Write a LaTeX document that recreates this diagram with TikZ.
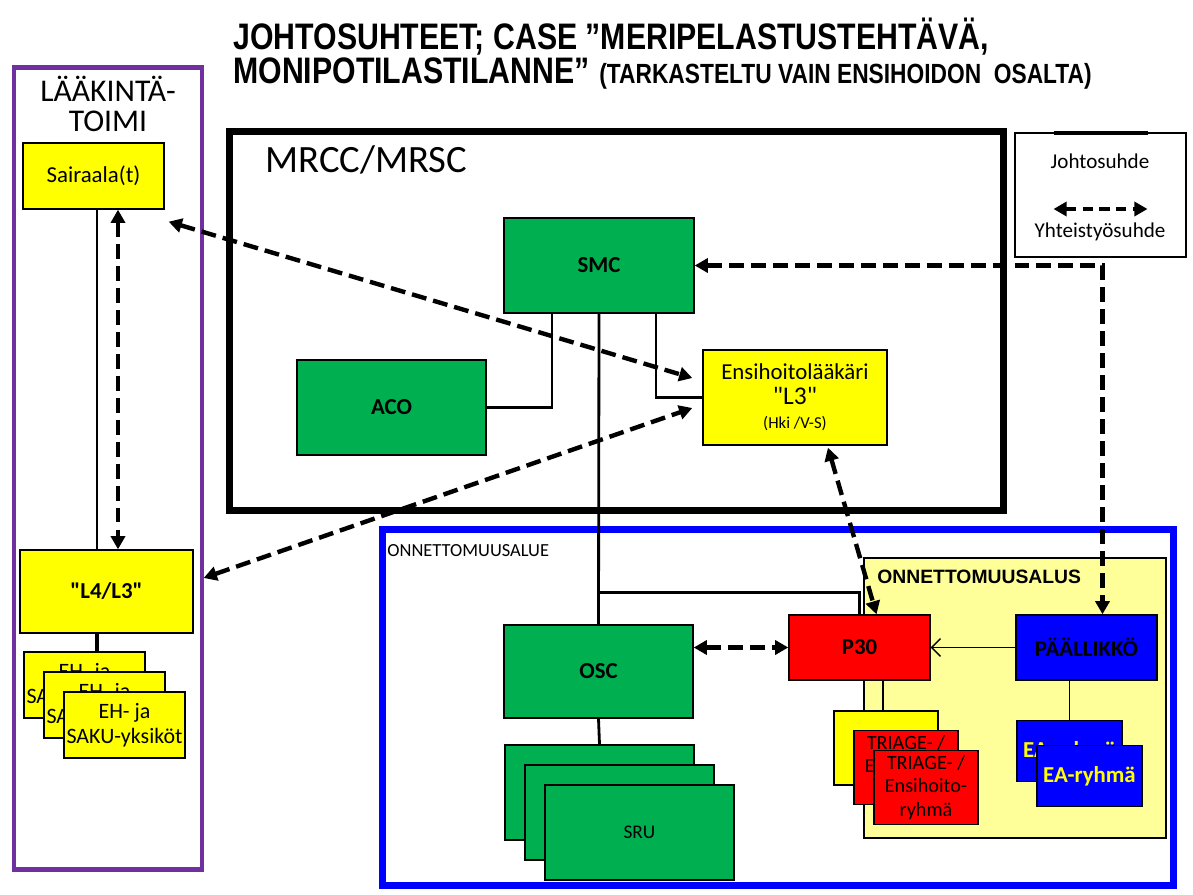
\documentclass[tikz,border=0pt]{standalone}
\usepackage{fontspec}
\setmainfont{Carlito}[Ligatures=TeXOff]
\newfontfamily\arialfont{Liberation Sans}
\newfontfamily\narrowfont[FakeStretch=0.82]{Liberation Sans}
\usepackage{xcolor}
\usetikzlibrary{arrows.meta}

\definecolor{boxgreen}{HTML}{00B050}
\definecolor{boxyellow}{HTML}{FFFF00}
\definecolor{paleyellow}{HTML}{FFFF99}
\definecolor{boxred}{HTML}{FF0000}
\definecolor{boxblue}{HTML}{0000FF}
\definecolor{frampurple}{HTML}{7030A0}

\tikzset{
  box/.style={draw, line width=0.8pt, inner sep=1pt, align=center, font=\fontsize{13}{15}\selectfont},
  gbox/.style={box, fill=boxgreen, minimum width=3.8cm, minimum height=1.9cm, font=\bfseries\fontsize{13}{15}\selectfont},
  ybox/.style={box, fill=boxyellow},
  rbox/.style={box, fill=boxred},
  bbox/.style={box, fill=boxblue},
  frame/.style={draw, inner sep=0pt, outer sep=0pt},
  lead/.style={line width=1.6pt},
  thinline/.style={line width=0.8pt},
  coop/.style={line width=2.5pt, dash pattern=on 8.5pt off 4pt, >={Triangle[length=7.5pt,width=8pt]}, <->}
}

\begin{document}
\begin{tikzpicture}[x=0.02cm, y=-0.02cm]
\path[use as bounding box, fill=white] (0,0) rectangle (1193,895);

% title
\node[anchor=base west, inner sep=0pt, font=\narrowfont\bfseries\fontsize{21}{20}\selectfont] (title1) at (233,50) {JOHTOSUHTEET; CASE ”MERIPELASTUSTEHTÄVÄ,};
\node[anchor=base west, inner sep=0pt, font=\narrowfont\bfseries\fontsize{21}{20}\selectfont] (title2) at (233,84) {MONIPOTILASTILANNE”};
\node[anchor=base west, inner sep=0pt, font=\narrowfont\bfseries\fontsize{15.8}{16}\selectfont] (subtitle) at ([xshift=0.18cm]title2.base east) {(TARKASTELTU VAIN ENSIHOIDON~ OSALTA)};

% frames
\node[frame, draw=frampurple, line width=2.8pt, minimum width=3.76cm, minimum height=16.05cm] (laak) at (108,468.75) {};
\node[align=center, font=\fontsize{18}{17.5}\selectfont] (laaktitle) at (108,104) {LÄÄKINTÄ-\\TOIMI};

\node[frame, line width=4pt, minimum width=15.5cm, minimum height=7.6cm] (mrcc) at (616.5,321) {};
\node[anchor=west, inner sep=0pt, font=\fontsize{22}{24}\selectfont] (mrcclabel) at ([shift={(36,29)}]mrcc.north west) {MRCC/MRSC};

\node[frame, draw=boxblue, line width=4pt, minimum width=15.84cm, minimum height=7.13cm] (onn) at (778,707.75) {};
\node[anchor=west, inner sep=0pt, font=\fontsize{10.5}{12}\selectfont] (alue) at ([shift={(5,21)}]onn.north west) {ONNETTOMUUSALUE};

\node[frame, fill=paleyellow, line width=0.8pt, minimum width=6.04cm, minimum height=5.6cm] (alusbox) at (1015,698) {};
\node[anchor=west, inner sep=0pt, font=\arialfont\bfseries\fontsize{11}{13}\selectfont] (alus) at ([shift={(13,19)}]alusbox.north west) {ONNETTOMUUSALUS};

% legend
\node[frame, line width=0.8pt, minimum width=3.42cm, minimum height=2.48cm] (legend) at (1100.5,195) {};
\draw[lead, line width=2pt] ([xshift=-0.94cm]legend.north) -- ([xshift=0.94cm]legend.north);
\node[font=\fontsize{12}{14}\selectfont] (legjohto) at (1100,161) {Johtosuhde};
\draw[coop, dash pattern=on 6pt off 3.5pt] ([shift={(-47,76)}]legend.north) -- ([shift={(47,76)}]legend.north);
\node[font=\fontsize{12}{14}\selectfont] (legyht) at (1100,232) {Yhteistyösuhde};

% laakintatoimi
\node[ybox, minimum width=2.82cm, minimum height=1.32cm] (sair) at (93.5,176) {Sairaala(t)};
\node[ybox, minimum width=3.46cm, minimum height=1.66cm, font=\bfseries\fontsize{13}{15}\selectfont] (l4) at (106.5,591.5) {"L4/L3"};
\foreach \i/\x/\y in {1/84.5/685, 2/104.5/705, 3/124.5/725}
  \node[ybox, inner sep=0pt, minimum width=2.42cm, minimum height=1.32cm, font=\fontsize{12.5}{14.5}\selectfont] (eh\i) at (\x,\y) {EH- ja\\SAKU-yksiköt};

% mrcc
\node[gbox] (smc) at (599,265.5) {SMC};
\node[gbox, minimum width=3.78cm] (aco) at (391.5,407.5) {ACO};
\node[ybox, minimum width=3.68cm, minimum height=1.9cm] (ensi) at (795,397.5)
  {Ensihoitolääkäri\\[-1pt]{\fontsize{14.5}{16}\selectfont"L3"}\\[-1pt]{\fontsize{9.5}{11}\selectfont(Hki /V-S)}};

% onnettomuusalue
\node[gbox, minimum width=3.78cm, minimum height=1.86cm] (osc) at (598.5,671.5) {OSC};
\foreach \i/\x/\y in {1/599.5/792.5, 2/619.5/812.5, 3/639.5/832.5}
  \node[gbox, minimum width=3.78cm, font=\fontsize{11}{13}\selectfont] (sru\i) at (\x,\y) {SRU};
\node[rbox, minimum width=2.82cm, minimum height=1.3cm, font=\bfseries\fontsize{13}{15}\selectfont] (p30) at (859.5,647.5) {P30};
\node[bbox, minimum width=2.82cm, minimum height=1.3cm, font=\bfseries\fontsize{13}{15}\selectfont] (paal) at (1086.5,647.5) {PÄÄLLIKKÖ};
\node[ybox, minimum width=2.08cm, minimum height=1.48cm] (tri1) at (886,748) {};
\foreach \i/\x/\y in {2/906/767.5, 3/926/787.5}
  \node[rbox, minimum width=2.08cm, minimum height=1.48cm, font=\fontsize{11.5}{13.5}\selectfont] (tri\i) at (\x,\y) {TRIAGE- /\\Ensihoito-\\ryhmä};
\foreach \i/\x/\y in {1/1069.5/751, 2/1089.5/776}
  \node[bbox, minimum width=2.1cm, minimum height=1.22cm, font=\bfseries\fontsize{13}{15}\selectfont, text=boxyellow] (ea\i) at (\x,\y) {EA-ryhmä};

% johtosuhteet
\draw[lead, line width=1.2pt] ([xshift=0.07cm]sair.south) -- ([xshift=0.07cm]sair.south |- l4.north);
\draw[lead, line width=2pt] ([xshift=-0.19cm]l4.south) -- ([xshift=-0.19cm]l4.south |- eh1.north);
\draw[lead] ([xshift=-0.94cm]smc.south) |- (aco.east);
\draw[lead] ([xshift=1.14cm]smc.south) |- (ensi.west);
\draw[lead] (smc.south) -- (osc.north);
\draw[lead] ([yshift=0.64cm]osc.north) -| (p30.north);
\draw[lead] (osc.south) -- (sru1.north);
\draw[thinline, -{Straight Barb[length=5pt,width=10pt]}] (paal.west) -- (p30.east);
\draw[thinline] ([xshift=0.47cm]p30.south) -- ([xshift=0.47cm]p30.south |- tri1.north);
\draw[thinline] (paal.south -| ea1.north) -- (ea1.north);

% yhteistyosuhteet
\draw[coop] ([xshift=0.49cm]sair.south) -- ([xshift=0.49cm]sair.south |- l4.north);
\draw[coop] ([shift={(4,12)}]sair.south east) -- ([shift={(-10,-19.5)}]ensi.west);
\draw[coop] ([shift={(10,-13.5)}]l4.east) -- ([shift={(-10,10.5)}]ensi.west);
\draw[coop] (smc.east) -| ([xshift=0.32cm]paal.north);
\draw[coop] ([shift={(33,2)}]ensi.south) -- ([xshift=0.34cm]p30.north);
\draw[coop] (osc.east |- p30.west) -- (p30.west);
\end{tikzpicture}
\end{document}
